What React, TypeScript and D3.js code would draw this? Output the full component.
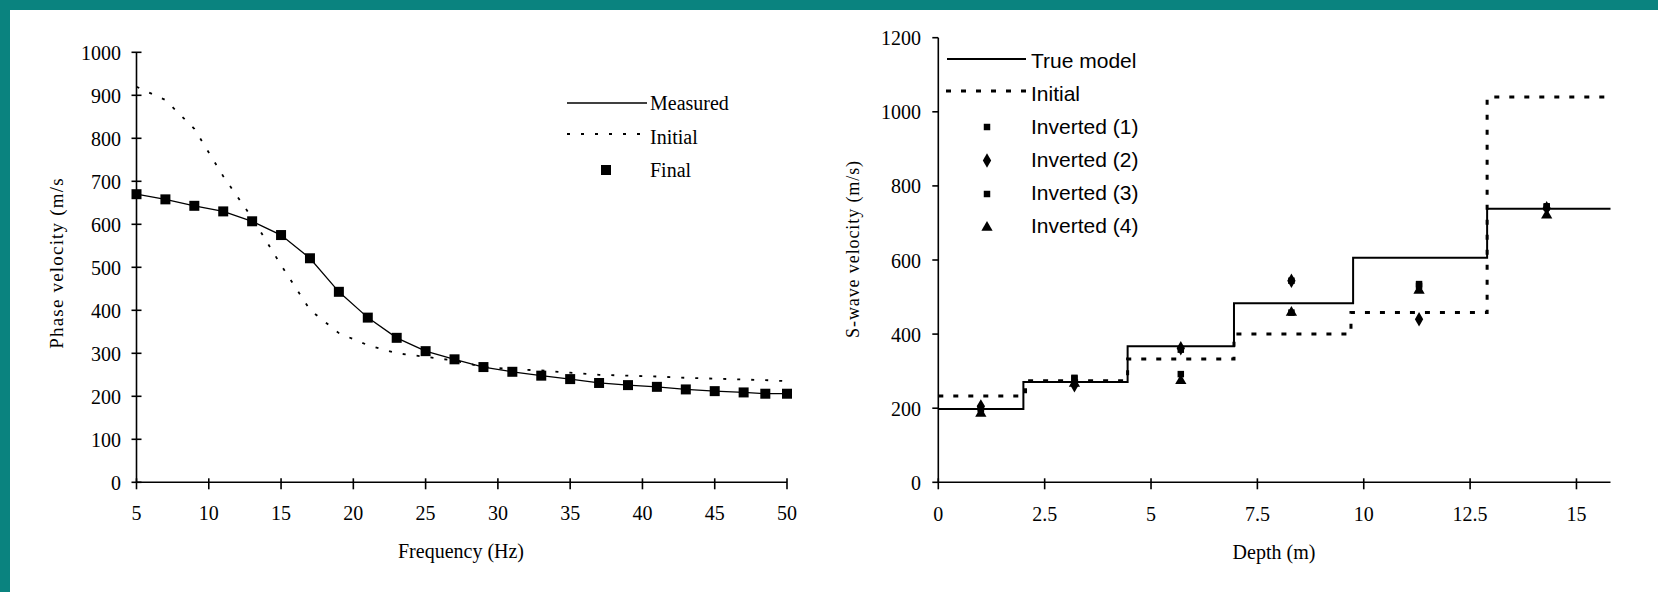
import React from 'react'
import * as d3 from 'd3'

// left chart: dispersion curves
const freqs = [5, 7, 9, 11, 13, 15, 17, 19, 21, 23, 25, 27, 29, 31, 33, 35, 37, 39, 41, 43, 45, 47, 48.5, 50]
const measured = [670, 658, 643, 630, 607, 575, 521, 443, 383, 336, 305, 286, 268, 257, 248, 240, 231, 226, 222, 216, 212, 209, 206, 206]
const finalVals = [670, 658, 643, 630, 607, 575, 521, 443, 383, 336, 305, 286, 268, 257, 248, 240, 231, 226, 222, 216, 212, 209, 206, 206]
const initFreqs = [5, 7, 9, 11, 13, 15, 17, 19, 21, 23, 25, 27, 29, 31, 33, 35, 37, 39, 41, 43, 45, 47, 49, 50]
const initialCurve = [920, 889, 822, 712, 615, 505, 401, 347, 319, 300, 292, 283, 268, 263, 260, 255, 250, 248, 246, 243, 241, 239, 237, 235]
const freqTicks = [5, 10, 15, 20, 25, 30, 35, 40, 45, 50]
const phaseTicks = [0, 100, 200, 300, 400, 500, 600, 700, 800, 900, 1000]

// right chart: layered model
const trueBounds = [0, 2.0, 4.45, 6.95, 9.75, 12.9, 15.8]
const trueVs = [198, 271, 367, 483, 606, 738]
const initBounds = [0, 2.05, 4.45, 6.95, 9.7, 12.9, 15.8]
const initVs = [233, 274, 333, 400, 458, 1040]
const invDepths = [1.0, 3.2, 5.7, 8.3, 11.3, 14.3]
const inv1 = [200, 280, 358, 544, 535, 745]
const inv2 = [205, 262, 362, 544, 440, 740]
const inv3 = [197, 282, 292, 458, 530, 742]
const inv4 = [186, 267, 274, 458, 518, 721]
const depthTicks = [0, 2.5, 5, 7.5, 10, 12.5, 15]
const vsTicks = [0, 200, 400, 600, 800, 1000, 1200]

const serif = '"Liberation Serif", "Times New Roman", serif'
const sans = '"Liberation Sans", Arial, sans-serif'

const steps = (bounds: number[], vals: number[]) =>
  bounds.map((b, i) => [b, vals[Math.min(i, vals.length - 1)]] as [number, number])

export default function App() {
  const xL = d3.scaleLinear().domain([5, 50]).range([136.5, 787])
  const yL = d3.scaleLinear().domain([0, 1000]).range([482.3, 52.3])
  const xR = d3.scaleLinear().domain([0, 15.8]).range([938.3, 1610.5])
  const yR = d3.scaleLinear().domain([0, 1200]).range([482.3, 37.7])

  const lineL = d3.line<[number, number]>().x(d => xL(d[0])).y(d => yL(d[1]))
  const stepR = d3.line<[number, number]>().x(d => xR(d[0])).y(d => yR(d[1])).curve(d3.curveStepAfter)

  const diamond = d3.symbol().type(d3.symbolDiamond).size(60)()
  const triangle = d3.symbol().type(d3.symbolTriangle).size(55)()
  const smallSq = d3.symbol().type(d3.symbolSquare).size(42)()
  const bigSq = d3.symbol().type(d3.symbolSquare).size(100)()

  const invSeries = [
    { label: 'Inverted (1)', vals: inv1, shape: smallSq },
    { label: 'Inverted (2)', vals: inv2, shape: diamond },
    { label: 'Inverted (3)', vals: inv3, shape: smallSq },
    { label: 'Inverted (4)', vals: inv4, shape: triangle },
  ]

  return (
    <svg width={1658} height={592} style={{ position: 'fixed', left: 0, top: 0, background: '#fff' }}>
      <rect x={0} y={0} width={1658} height={10} fill="#0a837f" />
      <rect x={0} y={0} width={10} height={592} fill="#0a837f" />

      {/* ---------- left chart ---------- */}
      <path d={lineL(initFreqs.map((f, i) => [f, initialCurve[i]] as [number, number])) || ''}
        fill="none" stroke="#000" strokeWidth={1.8} strokeDasharray="3,11" />
      <path d={lineL(freqs.map((f, i) => [f, measured[i]] as [number, number])) || ''}
        fill="none" stroke="#000" strokeWidth={1.3} />
      {freqs.map((f, i) => (
        <path key={'fin' + i} d={bigSq || ''} transform={`translate(${xL(f)},${yL(finalVals[i])})`} fill="#000" />
      ))}

      <line x1={xL(5)} x2={xL(5)} y1={yL(0)} y2={yL(1000)} stroke="#000" strokeWidth={1.6} />
      <line x1={xL(5)} x2={xL(50)} y1={yL(0)} y2={yL(0)} stroke="#000" strokeWidth={1.6} />
      {phaseTicks.map(t => (
        <g key={'py' + t}>
          <line x1={xL(5) - 5} x2={xL(5) + 5} y1={yL(t)} y2={yL(t)} stroke="#000" strokeWidth={1.6} />
          <text x={121} y={yL(t) + 7.5} textAnchor="end" fontFamily={serif} fontSize={20}>{t}</text>
        </g>
      ))}
      {freqTicks.map(t => (
        <g key={'px' + t}>
          <line x1={xL(t)} x2={xL(t)} y1={yL(0) - 4} y2={yL(0) + 7} stroke="#000" strokeWidth={1.6} />
          <text x={xL(t)} y={520} textAnchor="middle" fontFamily={serif} fontSize={20}>{t}</text>
        </g>
      ))}
      <text x={461} y={558} textAnchor="middle" fontFamily={serif} fontSize={20}>Frequency (Hz)</text>
      <text transform="translate(63,263) rotate(-90)" textAnchor="middle" fontFamily={serif} fontSize={19} letterSpacing={1.2}>Phase velocity (m/s</text>

      <line x1={567} x2={647} y1={103} y2={103} stroke="#000" strokeWidth={1.3} />
      <text x={650} y={110} fontFamily={serif} fontSize={20}>Measured</text>
      <line x1={567} x2={647} y1={134} y2={134} stroke="#000" strokeWidth={1.8} strokeDasharray="3,11" />
      <text x={650} y={144} fontFamily={serif} fontSize={20}>Initial</text>
      <path d={bigSq || ''} transform="translate(606,170)" fill="#000" />
      <text x={650} y={177} fontFamily={serif} fontSize={20}>Final</text>

      {/* ---------- right chart ---------- */}
      <path d={stepR(steps(initBounds, initVs)) || ''} fill="none" stroke="#000" strokeWidth={3} strokeDasharray="5,10" />
      <path d={stepR(steps(trueBounds, trueVs)) || ''} fill="none" stroke="#000" strokeWidth={2} />
      {invSeries.map((s, k) =>
        invDepths.map((d, i) => (
          <path key={`inv${k}-${i}`} d={s.shape || ''} transform={`translate(${xR(d)},${yR(s.vals[i])})`} fill="#000" />
        ))
      )}

      <line x1={xR(0)} x2={xR(0)} y1={yR(0)} y2={yR(1200)} stroke="#000" strokeWidth={1.6} />
      <line x1={xR(0)} x2={xR(15.8)} y1={yR(0)} y2={yR(0)} stroke="#000" strokeWidth={1.6} />
      {vsTicks.map(t => (
        <g key={'ry' + t}>
          <line x1={xR(0) - 6} x2={xR(0)} y1={yR(t)} y2={yR(t)} stroke="#000" strokeWidth={1.6} />
          <text x={921} y={yR(t) + 7.5} textAnchor="end" fontFamily={serif} fontSize={20}>{t}</text>
        </g>
      ))}
      {depthTicks.map(t => (
        <g key={'rx' + t}>
          <line x1={xR(t)} x2={xR(t)} y1={yR(0) - 4} y2={yR(0) + 7} stroke="#000" strokeWidth={1.6} />
          <text x={xR(t)} y={521} textAnchor="middle" fontFamily={serif} fontSize={20}>{t}</text>
        </g>
      ))}
      <text x={1274} y={559} textAnchor="middle" fontFamily={serif} fontSize={20}>Depth (m)</text>
      <text transform="translate(859,249) rotate(-90)" textAnchor="middle" fontFamily={serif} fontSize={18} letterSpacing={0.9}>S-wave velocity (m/s)</text>

      <line x1={947} x2={1026} y1={59} y2={59} stroke="#000" strokeWidth={2} />
      <text x={1031} y={68} fontFamily={sans} fontSize={21}>True model</text>
      <line x1={946} x2={1029} y1={91} y2={91} stroke="#000" strokeWidth={3} strokeDasharray="5,10" />
      <text x={1031} y={101} fontFamily={sans} fontSize={21}>Initial</text>
      {invSeries.map((s, k) => (
        <g key={'leg' + k}>
          <path d={s.shape || ''} transform={`translate(987,${127 + k * 33.5})`} fill="#000" />
          <text x={1031} y={134 + k * 33} fontFamily={sans} fontSize={21}>{s.label}</text>
        </g>
      ))}
    </svg>
  )
}
